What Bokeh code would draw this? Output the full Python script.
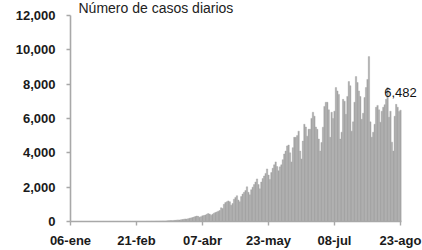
import pandas as pd
from bokeh.plotting import figure
from bokeh.models import Range1d, FixedTicker, ColumnDataSource, NumeralTickFormatter, Label
from bokeh.embed import file_html
from bokeh.resources import INLINE

title_text = "Número de casos diarios"
start_date = "2020-01-06"
end_date = "2020-08-23"

# daily cases, month by month
jan = [0, 0, 0, 0, 0, 0, 0, 0, 1, 0, 0, 0, 0, 1, 0, 0, 0, 0, 0, 1, 0, 0, 0, 1, 0, 0]
feb = [0, 1, 0, 0, 1, 0, 0, 1, 0, 1, 0, 0, 1, 1, 0, 1, 2, 1, 0, 2, 3, 2, 4, 3, 5, 4, 6, 8, 7]
mar = [9, 10, 12, 11, 15, 18, 17, 20, 25, 28, 30, 27, 35, 42, 48, 55, 50, 62, 70, 80,
       92, 85, 100, 115, 130, 150, 140, 165, 190, 210, 230]
apr = [260, 290, 320, 300, 250, 280, 330, 350, 380, 420, 460, 430, 360, 420, 480, 520,
       560, 600, 640, 800, 760, 1000, 1100, 1150, 1200, 1150, 950, 1050, 1300, 1400]
may = [1500, 1250, 1150, 1450, 1600, 1700, 1800, 2020, 1700, 1550, 1850, 2000, 2150, 2300,
       2480, 2150, 1900, 2300, 2500, 2650, 2800, 3060, 2700, 2450, 2850, 3100, 3300, 3470,
       3200, 2950, 3180]
jun = [3300, 3600, 3930, 4100, 4400, 4450, 4000, 3470, 4300, 4900, 4900, 5000, 5260, 4100,
       3640, 4680, 5660, 5500, 4970, 5370, 5370, 6000, 6360, 6130, 5500, 5370, 4800, 4100,
       4600, 5490]
jul = [6700, 6940, 6940, 6500, 4900, 6360, 6000, 6420, 7800, 7600, 7400, 4800, 5200, 7110,
       7000, 6240, 7280, 8150, 7900, 5260, 5800, 6940, 8440, 8090, 7600, 7280, 5950, 6300,
       7220, 7800, 8270]
aug = [9600, 5800, 4910, 5200, 5660, 6650, 6760, 6500, 5780, 6420, 6650, 6800, 7110, 7800,
       6070, 6420, 4620, 4100, 6130, 6820, 6650, 6400, 6482]

tick_dates = ["2020-01-06", "2020-02-21", "2020-04-07", "2020-05-23", "2020-07-08", "2020-08-23"]
tick_labels = ["06-ene", "21-feb", "07-abr", "23-may", "08-jul", "23-ago"]
y_ticks = [0, 2000, 4000, 6000, 8000, 10000, 12000]

cases = jan + feb + mar + apr + may + jun + jul + aug
dates = pd.date_range(start_date, end_date, freq="D")
day = [int(d) for d in (dates - dates[0]).days]
tick_days = [int(d) for d in (pd.to_datetime(tick_dates) - dates[0]).days]

src = ColumnDataSource(dict(day=day, cases=cases))

W, H = 422, 250
left, right_tick, top_tick, bottom = 70, 400, 15, 223
px_per_day = (right_tick - left) / (tick_days[-1] - tick_days[0])
x_end = tick_days[0] + (W - left) / px_per_day
px_per_unit = (bottom - top_tick) / (y_ticks[-1] - y_ticks[0])
y_end = y_ticks[-1] + top_tick / px_per_unit

p = figure(width=W, height=H, output_backend="svg", toolbar_location=None,
           x_range=Range1d(tick_days[0], x_end), y_range=Range1d(y_ticks[0], y_end),
           min_border_left=left, min_border_right=0, min_border_top=0,
           min_border_bottom=H - bottom)
p.title = None
p.outline_line_color = None
p.xgrid.grid_line_color = None
p.ygrid.grid_line_color = None
p.background_fill_color = "white"
p.border_fill_color = "white"

p.vbar(x="day", top="cases", width=0.95, bottom=0, source=src,
       fill_color="#a6a6a6", line_color="#a6a6a6", line_width=0.4)

for ax in (p.xaxis[0], p.yaxis[0]):
    ax.axis_line_color = "#a8a8a8"
    ax.axis_line_width = 1.6
    ax.major_tick_line_color = "#a8a8a8"
    ax.major_tick_line_width = 1.4
    ax.major_tick_in = 0
    ax.major_tick_out = 4
    ax.minor_tick_line_color = None
    ax.major_label_text_font = "Liberation Sans"
    ax.major_label_text_font_size = "13px"
    ax.major_label_text_font_style = "bold"
    ax.major_label_text_color = "#1a1a1a"

p.yaxis[0].ticker = FixedTicker(ticks=y_ticks)
p.yaxis[0].formatter = NumeralTickFormatter(format="0,0")
p.yaxis[0].major_label_standoff = 11
p.yaxis[0].bounds = (y_ticks[0], y_ticks[-1])

p.xaxis[0].ticker = FixedTicker(ticks=tick_days)
p.xaxis[0].major_label_overrides = {d: lab for d, lab in zip(tick_days, tick_labels)}
p.xaxis[0].major_label_standoff = 7
p.xaxis[0].bounds = (tick_days[0], tick_days[-1] + 0.5)

p.add_layout(Label(x=day[0], y=y_ticks[-1], text=title_text, x_offset=8, y_offset=7,
                   text_baseline="middle", text_align="left",
                   text_font="Liberation Sans", text_font_size="14px", text_color="#222222"))

p.add_layout(Label(x=day[-1], y=cases[-1], text=f"{cases[-1]:,}", y_offset=13,
                   text_baseline="bottom", text_align="center",
                   text_font="Liberation Sans", text_font_size="13px", text_color="#111111"))

open("out.html", "w").write(file_html(p, INLINE))
